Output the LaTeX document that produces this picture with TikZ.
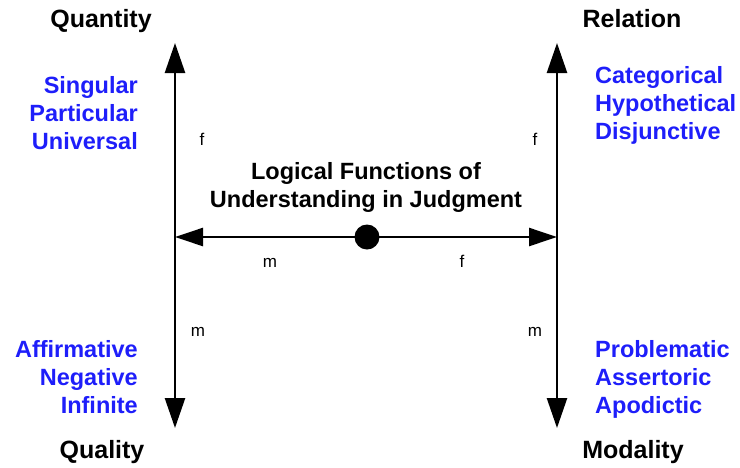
\documentclass[tikz,border=0pt]{standalone}
\usepackage{fontspec}
\setmainfont{Liberation Sans}
\usetikzlibrary{arrows.meta}
\definecolor{catblue}{RGB}{30,30,250}

\begin{document}
\begin{tikzpicture}[x=1pt, y=-1pt,
  axis/.style={line width=2.5pt,
    {Triangle[length=30pt,width=20pt]}-{Triangle[length=30pt,width=20pt]}},
  hline/.style={line width=2.5pt,
    {Triangle[length=28pt,width=18pt]}-{Triangle[length=28pt,width=18pt]}},
  head/.style={font=\bfseries\fontsize{25}{30}\selectfont, anchor=base, inner sep=0pt},
  cat/.style={font=\bfseries\fontsize{23.5}{28}\selectfont, text=catblue, inner sep=0pt},
  title/.style={font=\bfseries\fontsize{23.5}{28}\selectfont, anchor=base, inner sep=0pt},
  fn/.style={font=\fontsize{17}{20}\selectfont, anchor=base, inner sep=0pt}]
  \useasboundingbox (0,0) rectangle (740,467);

  % Axes
  \coordinate (QT) at (175,43);
  \coordinate (QB) at (175,428);
  \coordinate (RT) at (557,43);
  \coordinate (RB) at (557,428);
  \coordinate (HL) at (175,237);
  \coordinate (HR) at (557,237);
  \draw[axis] (QB) -- (QT);
  \draw[axis] (RB) -- (RT);
  \draw[hline] (HL) -- (HR);

  % Centre point
  \node[circle, fill, inner sep=0pt, minimum size=25pt] (J) at (367,237) {};
  \node[title] (T1) at (366,179) {Logical Functions of};
  \node[title] (T2) at (366,207) {Understanding in Judgment};

  % Headings
  \node[head] (quantity) at (101,27) {Quantity};
  \node[head] (relation) at (632,27) {Relation};
  \node[head] (quality) at (102,458) {Quality};
  \node[head] (modality) at (633,458) {Modality};

  % Quantity
  \node[cat, anchor=base east] (sing) at (138,93) {Singular};
  \node[cat, anchor=base east] (part) at (138,121) {Particular};
  \node[cat, anchor=base east] (univ) at (138,149) {Universal};

  % Quality
  \node[cat, anchor=base east] (affi) at (138,357) {Affirmative};
  \node[cat, anchor=base east] (nega) at (138,385) {Negative};
  \node[cat, anchor=base east] (infi) at (138,413) {Infinite};

  % Relation
  \node[cat, anchor=base west] (cate) at (595,83) {Categorical};
  \node[cat, anchor=base west] (hypo) at (595,111) {Hypothetical};
  \node[cat, anchor=base west] (disj) at (595,139) {Disjunctive};

  % Modality
  \node[cat, anchor=base west] (prob) at (595,357) {Problematic};
  \node[cat, anchor=base west] (asse) at (595,385) {Assertoric};
  \node[cat, anchor=base west] (apod) at (595,413) {Apodictic};

  % f and m
  \node[fn] (fq) at (202,145) {f};
  \node[fn] (fr) at (535,145) {f};
  \node[fn] (mq) at (198,336) {m};
  \node[fn] (mr) at (535,336) {m};
  \node[fn] (mh) at (270,267) {m};
  \node[fn] (fh) at (462,267) {f};
\end{tikzpicture}
\end{document}
